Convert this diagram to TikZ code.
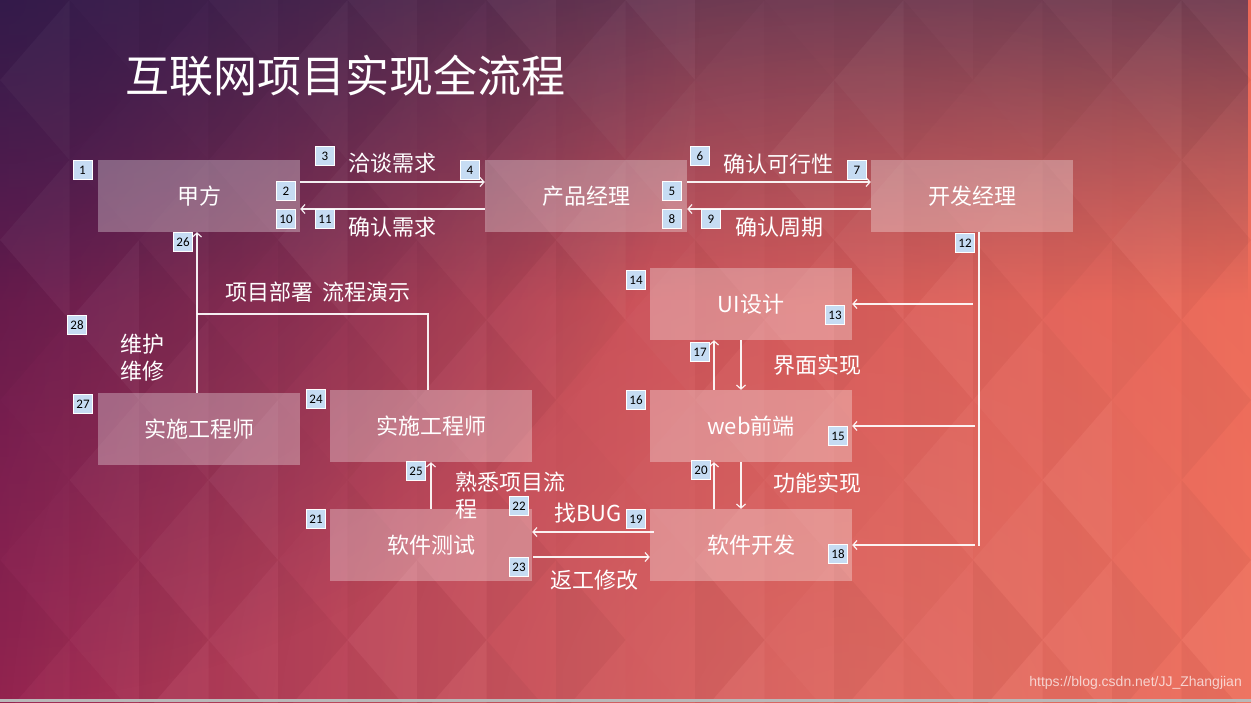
\documentclass[tikz,border=0pt]{standalone}
\usepackage{fontspec}
\setmainfont{Noto Sans CJK SC}
\newfontfamily\badgefont{Carlito}
\newfontfamily\wmfont{Liberation Sans}
\usetikzlibrary{arrows.meta,fadings}
\definecolor{bgleft}{HTML}{921E50}
\definecolor{bgmid}{HTML}{B8344F}
\definecolor{bgright}{HTML}{EC6453}
\definecolor{bgtopdark}{HTML}{3A2A50}
\definecolor{bgcorner}{HTML}{25164A}
\definecolor{bgglow}{HTML}{F5907A}
\definecolor{badgeblue}{HTML}{C6DCF3}
\tikzfading[name=fadetopdown, top color=transparent!0, bottom color=transparent!100]
\tikzfading[name=radfade, inner color=transparent!0, outer color=transparent!100]
\tikzset{
  box/.style={fill=white, fill opacity=0.3, text opacity=1, text=white,
    minimum width=202pt, minimum height=72pt, inner sep=0pt,
    font=\fontsize{22}{26}\selectfont},
  lbl/.style={text=white, inner sep=0pt, font=\fontsize{22}{27}\selectfont},
  badge/.style={draw=white, line width=0.9pt, fill=badgeblue, text=black,
    minimum width=19pt, minimum height=19pt, inner sep=0pt,
    font=\badgefont\fontsize{13}{13}\selectfont},
  conn/.style={draw=white, draw opacity=0.92, line width=1.2pt,
    -{Straight Barb[length=4pt,width=9pt]}},
  plain/.style={draw=white, draw opacity=0.92, line width=1.2pt},
}
\begin{document}
\begin{tikzpicture}[x=1pt,y=-1pt]
\path[use as bounding box] (0,0) rectangle (1251,702);
% background
\shade[left color=bgleft, middle color=bgmid, right color=bgright] (0,0) rectangle (1251,702);
\fill[bgtopdark, fill opacity=0.72, path fading=fadetopdown] (0,0) rectangle (1251,300);
\fill[bgglow, fill opacity=0.45, path fading=radfade] (850,760) circle[radius=1000];
\fill[bgcorner, fill opacity=0.65, path fading=radfade] (0,0) circle[radius=700];
% low-poly diamond texture
\foreach \i in {0,...,9}{
  \foreach \j in {0,...,5}{
    \pgfmathsetmacro\oa{mod(\i*7+\j*11,6)*0.007}
    \pgfmathsetmacro\ob{mod(\i*5+\j*3+2,5)*0.008}
    \fill[white, fill opacity=\oa] (\i*139,\j*160-80) -- (\i*139-69.5,\j*160) -- (\i*139,\j*160+80) -- cycle;
    \fill[black, fill opacity=\ob] (\i*139,\j*160-80) -- (\i*139+69.5,\j*160) -- (\i*139,\j*160+80) -- cycle;
  }
}
\foreach \i in {0,...,8}{
  \foreach \j in {-1,...,4}{
    \pgfmathsetmacro\oa{mod(\i*3+\j*7+4,6)*0.007}
    \pgfmathsetmacro\ob{mod(\i*11+\j*5+1,5)*0.008}
    \fill[white, fill opacity=\oa] (\i*139+69.5,\j*160) -- (\i*139,\j*160+80) -- (\i*139+69.5,\j*160+160) -- cycle;
    \fill[black, fill opacity=\ob] (\i*139+69.5,\j*160) -- (\i*139+139,\j*160+80) -- (\i*139+69.5,\j*160+160) -- cycle;
  }
}
\fill[gray!55] (0,699) rectangle (1251,702);
% title
\node[text=white, inner sep=0pt, font=\fontsize{44}{48}\selectfont] (title) at (345,76) {互联网项目实现全流程};
% boxes
\node[box] (jia) at (199,196) {甲方};
\node[box] (pm) at (586,196) {产品经理};
\node[box] (kf) at (972,196) {开发经理};
\node[box] (ui) at (751,304) {UI设计};
\node[box] (web) at (751,426) {web前端};
\node[box] (rj) at (751,545) {软件开发};
\node[box] (cs) at (431,545) {软件测试};
\node[box] (ss2) at (431,426) {实施工程师};
\node[box] (ss1) at (199,429) {实施工程师};
% connectors top row
\draw[conn] ([yshift=14pt]jia.east) -- ([yshift=14pt]pm.west);
\draw[conn] ([yshift=-13pt]pm.west) -- ([yshift=-13pt]jia.east);
\draw[conn] ([yshift=14pt]pm.east) -- ([yshift=14pt]kf.west);
\draw[conn] ([yshift=-13pt]kf.west) -- ([yshift=-13pt]pm.east);
% dev manager bus
\coordinate (v0) at ([xshift=7pt]kf.south);
\coordinate (v3) at (979,546);
\coordinate (h1) at (973,304);
\coordinate (h2) at (975,426);
\coordinate (h3) at (975,545);
\draw[plain] (v0) -- (v3);
\draw[conn] (h1) -- (ui.east);
\draw[conn] (h2) -- (web.east);
\draw[conn] (h3) -- (rj.east);
% UI <-> web <-> dev
\draw[conn] ([xshift=-10pt]ui.south) -- ([xshift=-10pt]web.north);
\draw[conn] ([xshift=-37pt]web.north) -- ([xshift=-37pt]ui.south);
\draw[conn] ([xshift=-10pt]web.south) -- ([xshift=-10pt]rj.north);
\draw[conn] ([xshift=-37pt]rj.north) -- ([xshift=-37pt]web.south);
% dev <-> test
\draw[conn] ([yshift=13pt,xshift=4pt]rj.west) -- ([yshift=13pt]cs.east);
\draw[conn] ([yshift=-12pt,xshift=1pt]cs.east) -- ([yshift=-12pt]rj.west);
% test -> implementer
\draw[conn] (cs.north) -- (ss2.south);
% implementers -> client
\coordinate (jn) at (197,314);
\draw[plain] ([xshift=-3pt]ss2.north) -- (428,314) -- (jn);
\draw[conn] ([xshift=-2pt]ss1.north) -- ([xshift=-2pt]jia.south);
% labels
\node[lbl] (l3) at (392,163) {洽谈需求};
\node[lbl] (l11) at (392,227) {确认需求};
\node[lbl] (l6) at (778,164) {确认可行性};
\node[lbl] (l9) at (779,227) {确认周期};
\node[lbl] (lui) at (817,365) {界面实现};
\node[lbl] (lgn) at (817,483) {功能实现};
\node[lbl] (lbug) at (588,513) {找BUG};
\node[lbl] (lfg) at (594,580) {返工修改};
\node[lbl, anchor=north west, align=left] (lsx) at (455,472) {熟悉项目流\\程};
\node[lbl] (lbs) at (318,292) {项目部署\hspace{10pt}流程演示};
\node[lbl, anchor=west, align=left] (lwh) at (120,358) {维护\\维修};
% badges
\foreach \n/\x/\y in {1/82.5/170, 2/286/191, 3/325/156, 4/470/170, 5/672/191,
  6/700/156, 7/857/170, 8/672/219, 9/711/219, 10/286/219, 11/325/219,
  12/965/243, 13/835/315, 14/636/280, 15/838/436, 16/636/400, 17/700/352,
  18/838/554, 19/636/519, 20/701/470, 21/316/519, 22/519/506, 23/519/567,
  24/316/399, 25/416/471, 26/183/242, 27/83/404, 28/77/325}
  \node[badge] (b\n) at (\x,\y) {\n};
% watermark
\node[anchor=east, inner sep=0pt, text=white, text opacity=0.7, font=\wmfont\fontsize{14}{14}\selectfont] (wm) at (1242,683) {https://blog.csdn.net/JJ\_Zhangjian};
\end{tikzpicture}
\end{document}
